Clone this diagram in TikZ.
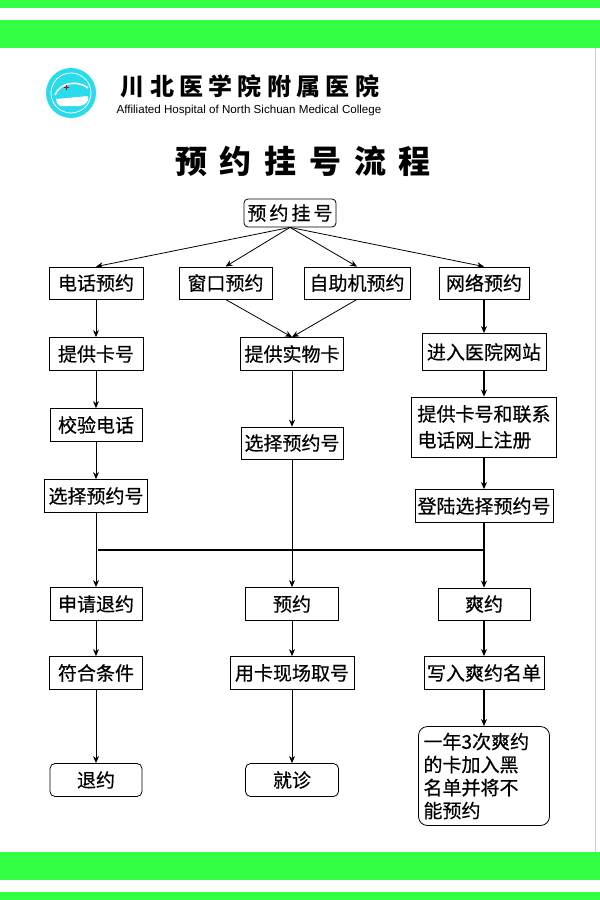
\documentclass[tikz,border=0pt]{standalone}
\usepackage{fontspec}
\setmainfont{Noto Sans CJK SC}[FakeBold=0.5]
\newfontfamily\latinfont{Liberation Sans}
\newfontfamily\schoolfont{Noto Sans CJK SC}[LetterSpace=22]
\newfontfamily\titlefont{Noto Sans CJK SC}[LetterSpace=40]
\newfontfamily\startfont{Noto Sans CJK SC}[LetterSpace=16,FakeBold=0.5]
\usetikzlibrary{arrows.meta,positioning}
\definecolor{bandgreen}{RGB}{51,255,68}
\definecolor{logocyan}{RGB}{40,220,235}

\begin{document}
\begin{tikzpicture}[x=1bp,y=-1bp,
	box/.style={draw,line width=0.8bp,inner xsep=0pt,inner ysep=0pt,minimum height=33bp,font=\fontsize{19bp}{23bp}\selectfont},
	rbox/.style={box,rounded corners=5bp},
	link/.style={-{Stealth[length=7bp,width=6bp]},line width=0.8bp}]
	\useasboundingbox (0,0) rectangle (600,900);
	\fill[bandgreen] (0,0) rectangle (600,8);
	\fill[bandgreen] (0,19.5) rectangle (600,48);
	\fill[bandgreen] (0,852) rectangle (600,880);
	\fill[bandgreen] (0,892) rectangle (600,900);
	\draw[black!20,line width=0.6bp] (595,48) -- (595,852);
	\fill[logocyan] (71,93) circle (25);
	\draw[white,line width=0.8bp] (71,93) circle (20);
	\draw[white,line width=1.6bp] (55,95) .. controls (60,82) and (78,80) .. (88,88);
	\fill[white] (56,99) -- (88,96) .. controls (90,100) and (86,105) .. (80,106) -- (60,106) .. controls (57,104) .. cycle;
	\draw[red!80!black,line width=0.8bp] (63.5,87) -- (68.5,87) (66,84.5) -- (66,89.5);
	\node[font=\schoolfont\bfseries\fontsize{24bp}{26bp}\selectfont] (school) at (250,86) {川北医学院附属医院};
	\node[font=\latinfont\fontsize{11.6bp}{13bp}\selectfont] (english) at (249,110) {Affiliated Hospital of North Sichuan Medical College};
	\node[font=\titlefont\bfseries\fontsize{32bp}{36bp}\selectfont] (title) at (303,161) {预约挂号流程};
	\node[rbox,minimum width=92bp,minimum height=28bp,rounded corners=4bp,font=\startfont\fontsize{19bp}{23bp}\selectfont] (start) at (290,213) {预约挂号};
	\node[box,minimum width=94bp,minimum height=32bp] (phone) at (96,283) {电话预约};
	\node[box,minimum width=93bp,minimum height=32bp] (window) at (225.5,283) {窗口预约};
	\node[box,minimum width=106bp,minimum height=32bp] (kiosk) at (357,283) {自助机预约};
	\node[box,minimum width=90bp,minimum height=32bp] (online) at (484,283) {网络预约};
	\node[box,minimum width=94bp] (phcard) at (96,354) {提供卡号};
	\node[box,minimum width=103bp] (realcard) at (292,354) {提供实物卡};
	\node[box,minimum width=124bp,minimum height=37bp] (website) at (484,352) {进入医院网站};
	\node[box,minimum width=92bp] (phcheck) at (96,425) {校验电话};
	\node[box,minimum width=102bp,minimum height=32bp] (midpick) at (292,443) {选择预约号};
	\node[box,text width=133bp,inner xsep=6bp,minimum height=60bp,align=left,font=\fontsize{19bp}{26bp}\selectfont] (register) at (484,427) {提供卡号和联系\\电话网上注册};
	\node[box,minimum width=103bp] (phpick) at (96,496) {选择预约号};
	\node[box,minimum width=138bp] (login) at (484,506) {登陆选择预约号};
	\node[box,minimum width=92bp] (cancelreq) at (96,604) {申请退约};
	\node[box,minimum width=93bp] (book) at (292,604) {预约};
	\node[box,minimum width=92bp,minimum height=32bp] (miss) at (484,604) {爽约};
	\node[box,minimum width=93bp] (meet) at (96,673) {符合条件};
	\node[box,minimum width=124bp] (fetch) at (292,673) {用卡现场取号};
	\node[box,minimum width=120bp] (misslist) at (484,673) {写入爽约名单};
	\node[rbox,minimum width=92bp] (cancel) at (96,780) {退约};
	\node[rbox,minimum width=93bp] (visit) at (292,780) {就诊};
	\node[rbox,rounded corners=9bp,text width=121bp,inner xsep=5bp,minimum height=99bp,align=left] (blacklist) at (484,776) {一年3次爽约\\的卡加入黑\\名单并将不\\能预约};
	\coordinate (joinl) at (98,550);
	\draw[link] (start.south) -- (phone.north);
	\draw[link] (start.south) -- (window.north);
	\draw[link] (start.south) -- (kiosk.north);
	\draw[link] (start.south) -- (online.north);
	\draw[link] (phone) -- (phcard);
	\draw[link] (window.south) -- (realcard.north);
	\draw[link] (kiosk.south) -- (realcard.north);
	\draw[link,line width=1.2bp] (online) -- (website);
	\draw[link] (phcard) -- (phcheck);
	\draw[link] (realcard) -- (midpick);
	\draw[link,line width=1.2bp] (website) -- (register);
	\draw[link] (phcheck) -- (phpick);
	\draw[link,line width=1.2bp] (register) -- (login);
	\draw[line width=1.5bp] (joinl) -- (login.south |- joinl);
	\draw[link] (phpick) -- (cancelreq);
	\draw[link] (midpick) -- (book);
	\draw[link,line width=1.2bp] (login) -- (miss);
	\draw[link] (cancelreq) -- (meet);
	\draw[link] (book) -- (fetch);
	\draw[link,line width=1.2bp] (miss) -- (misslist);
	\draw[link] (meet) -- (cancel);
	\draw[link] (fetch) -- (visit);
	\draw[link,line width=1.2bp] (misslist) -- (blacklist);
\end{tikzpicture}
\end{document}
